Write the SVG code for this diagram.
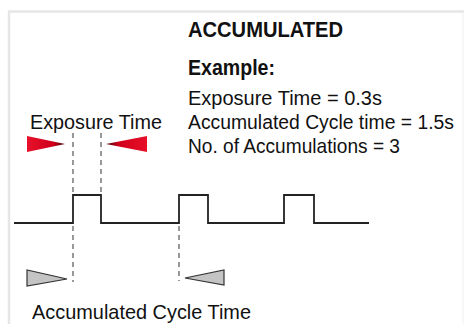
<svg xmlns="http://www.w3.org/2000/svg" width="464" height="324" viewBox="0 0 464 324">
<defs>
<linearGradient id="redR" x1="0" y1="0" x2="1" y2="0">
<stop offset="0" stop-color="#e8102a"/><stop offset="0.7" stop-color="#d0001a"/><stop offset="1" stop-color="#400008"/>
</linearGradient>
<linearGradient id="redL" x1="1" y1="0" x2="0" y2="0">
<stop offset="0" stop-color="#e8102a"/><stop offset="0.7" stop-color="#d0001a"/><stop offset="1" stop-color="#400008"/>
</linearGradient>
<style>
.t{font-family:"Liberation Sans",Arial,sans-serif;font-size:21px;fill:#111}
.b{font-weight:bold;font-size:22px}
.s{font-size:19.5px}
.dash{stroke:#555;stroke-width:1.2;stroke-dasharray:5 4;fill:none}
.wave{stroke:#222;stroke-width:1.8;fill:none}
.gray{fill:#c4c4c4;stroke:#333;stroke-width:1.2}
.frame{stroke:#e6e6e6;stroke-width:2.5;fill:none}
</style>
</defs>
<rect width="464" height="324" fill="#fff"/>
<path class="frame" d="M9 324 V11.5 H464"/>
<line x1="463" y1="12" x2="463" y2="324" stroke="#f0f0f0" stroke-width="1"/>
<g id="title">
<text class="t b" x="188" y="37" textLength="155" lengthAdjust="spacingAndGlyphs">ACCUMULATED</text>
</g>
<g id="example">
<text class="t b" x="188" y="75" textLength="87" lengthAdjust="spacingAndGlyphs">Example:</text>
<text class="t" x="188" y="105" textLength="194" lengthAdjust="spacingAndGlyphs">Exposure Time = 0.3s</text>
<text class="t s" x="188" y="129" textLength="266" lengthAdjust="spacingAndGlyphs">Accumulated Cycle time = 1.5s</text>
<text class="t" x="188" y="153" textLength="212" lengthAdjust="spacingAndGlyphs">No. of Accumulations = 3</text>
</g>
<g id="exposure-label">
<text class="t" x="30" y="129" textLength="132" lengthAdjust="spacingAndGlyphs">Exposure Time</text>
<polygon points="27,136 27,152 65,144" fill="url(#redR)"/>
<polygon points="147,136 147,152 106,144" fill="url(#redL)"/>
</g>
<g id="cycle-label">
<polygon class="gray" points="27,270 27,286 67,279"/>
<polygon class="gray" points="224,270 224,285 185,278"/>
<text class="t" x="32" y="319" textLength="219" lengthAdjust="spacingAndGlyphs">Accumulated Cycle Time</text>
</g>
<g id="connectors">
<line class="dash" x1="73" y1="133" x2="73" y2="195"/>
<line class="dash" x1="101" y1="133" x2="101" y2="195"/>
<line class="dash" x1="73" y1="226" x2="73" y2="282"/>
<line class="dash" x1="179" y1="226" x2="179" y2="281"/>
</g>
<g id="waveform">
<path class="wave" d="M14 223 H73 V195 H101 V223 H179 V195 H208 V223 H284 V195 H314 V223 H369"/>
</g>
</svg>
